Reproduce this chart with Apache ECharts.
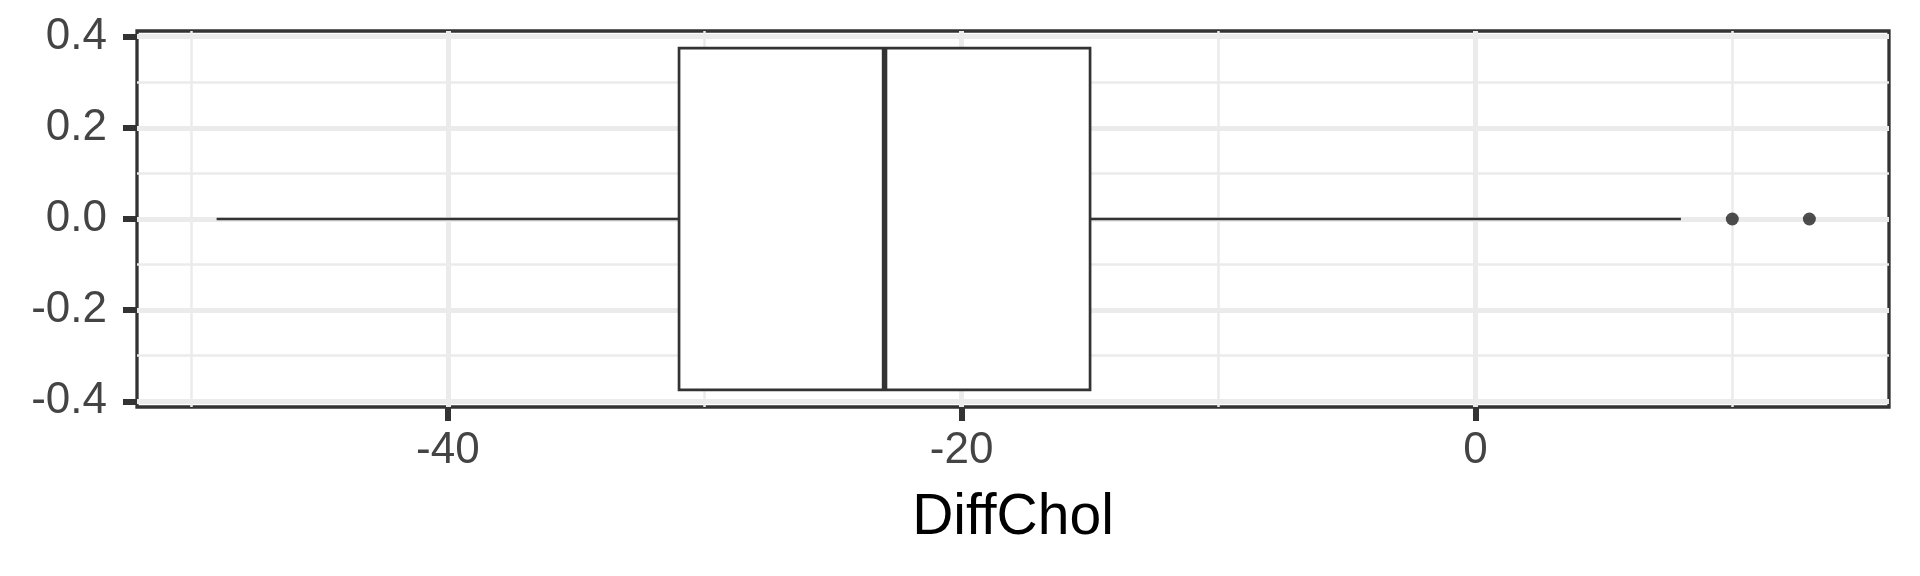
<!DOCTYPE html>
<html>
<head>
<meta charset="utf-8">
<script src="https://cdn.jsdelivr.net/npm/echarts@6/dist/echarts.min.js"></script>
<style>
html,body{margin:0;padding:0;background:#fff;}
#c{width:1920px;height:576px;}
</style>
</head>
<body>
<div id="c"></div>
<script>
// ---- data ----
const varName = 'DiffChol';
const boxStats = [-49, -31, -23, -15, 8];   // lower whisker, Q1, median, Q3, upper whisker
const outliers = [10, 13];
const xRange = [-52.1, 16.1];
const xMajorTicks = [-40, -20, 0];
const xMinorTicks = [-50, -30, -10, 10];
const yRange = [-0.4125, 0.4125];
const yMajorTicks = [-0.4, -0.2, 0, 0.2, 0.4];
const yTickLabels = ['-0.4', '-0.2', '0.0', '0.2', '0.4'];
const yMinorTicks = [-0.3, -0.1, 0.1, 0.3];
const boxHalfWidth = 0.375;

const font = 'Liberation Sans, Arial, Helvetica, sans-serif';
const ink = '#333333';
const gridCol = '#EBEBEB';
const tickText = '#444444';

const chart = echarts.init(document.getElementById('c'), null, {renderer: 'canvas'});

const option = {
  backgroundColor: '#ffffff',
  animation: false,
  grid: {
    left: 137, right: 31, top: 31, bottom: 169,
    show: true, backgroundColor: '#ffffff',
    borderColor: ink, borderWidth: 3.3,
    containLabel: false
  },
  xAxis: [
    {
      type: 'value', position: 'bottom', min: xRange[0], max: xRange[1],
      axisLine: {show: false, onZero: false},
      axisTick: {show: true, length: 14, customValues: xMajorTicks, lineStyle: {color: ink, width: 6}},
      axisLabel: {customValues: xMajorTicks, fontSize: 44, color: tickText, fontFamily: font, margin: 22},
      splitLine: {show: true, lineStyle: {color: gridCol, width: 5}},
      name: varName, nameLocation: 'middle', nameGap: 83,
      nameTextStyle: {fontSize: 57, color: '#000000', fontFamily: font}
    },
    {
      type: 'value', position: 'top', min: xRange[0], max: xRange[1],
      axisLine: {show: false, onZero: false},
      axisTick: {show: false, customValues: xMinorTicks},
      axisLabel: {show: false, customValues: xMinorTicks},
      splitLine: {show: true, lineStyle: {color: gridCol, width: 2.5}}
    }
  ],
  yAxis: [
    {
      type: 'value', position: 'left', min: yRange[0], max: yRange[1],
      axisLine: {show: false, onZero: false},
      axisTick: {show: true, length: 14, customValues: yMajorTicks, lineStyle: {color: ink, width: 6}},
      axisLabel: {
        customValues: yMajorTicks, fontSize: 44, color: tickText, fontFamily: font, margin: 30,
        formatter: function (v) {
          for (let i = 0; i < yMajorTicks.length; i++) {
            if (Math.abs(yMajorTicks[i] - v) < 1e-9) return yTickLabels[i];
          }
          return '';
        }
      },
      splitLine: {show: true, lineStyle: {color: gridCol, width: 5}}
    },
    {
      type: 'value', position: 'right', min: yRange[0], max: yRange[1],
      axisLine: {show: false, onZero: false},
      axisTick: {show: false, customValues: yMinorTicks},
      axisLabel: {show: false, customValues: yMinorTicks},
      splitLine: {show: true, lineStyle: {color: gridCol, width: 2.5}}
    }
  ],
  series: [
    {
      type: 'custom',
      xAxisIndex: 0, yAxisIndex: 0,
      data: [boxStats],
      z: 5,
      renderItem: function (params, api) {
        const lo = api.value(0), q1 = api.value(1), med = api.value(2), q3 = api.value(3), hi = api.value(4);
        const pLo = api.coord([lo, 0]);
        const pQ1 = api.coord([q1, 0]);
        const pMed = api.coord([med, 0]);
        const pQ3 = api.coord([q3, 0]);
        const pHi = api.coord([hi, 0]);
        const yTop = api.coord([q1, boxHalfWidth])[1];
        const yBot = api.coord([q1, -boxHalfWidth])[1];
        const lineStyle = {stroke: ink, lineWidth: 2.7};
        return {
          type: 'group',
          children: [
            {type: 'line', shape: {x1: pLo[0], y1: pLo[1], x2: pQ1[0], y2: pQ1[1]}, style: lineStyle},
            {type: 'line', shape: {x1: pQ3[0], y1: pQ3[1], x2: pHi[0], y2: pHi[1]}, style: lineStyle},
            {type: 'rect', shape: {x: pQ1[0], y: yTop, width: pQ3[0] - pQ1[0], height: yBot - yTop},
             style: {fill: '#ffffff', stroke: ink, lineWidth: 2.7}},
            {type: 'line', shape: {x1: pMed[0], y1: yTop, x2: pMed[0], y2: yBot},
             style: {stroke: ink, lineWidth: 5.5}}
          ]
        };
      }
    },
    {
      type: 'scatter',
      xAxisIndex: 0, yAxisIndex: 0,
      data: outliers.map(v => [v, 0]),
      symbol: 'circle', symbolSize: 13,
      itemStyle: {color: '#222222'},
      z: 6
    }
  ]
};
chart.setOption(option);
</script>
</body>
</html>
